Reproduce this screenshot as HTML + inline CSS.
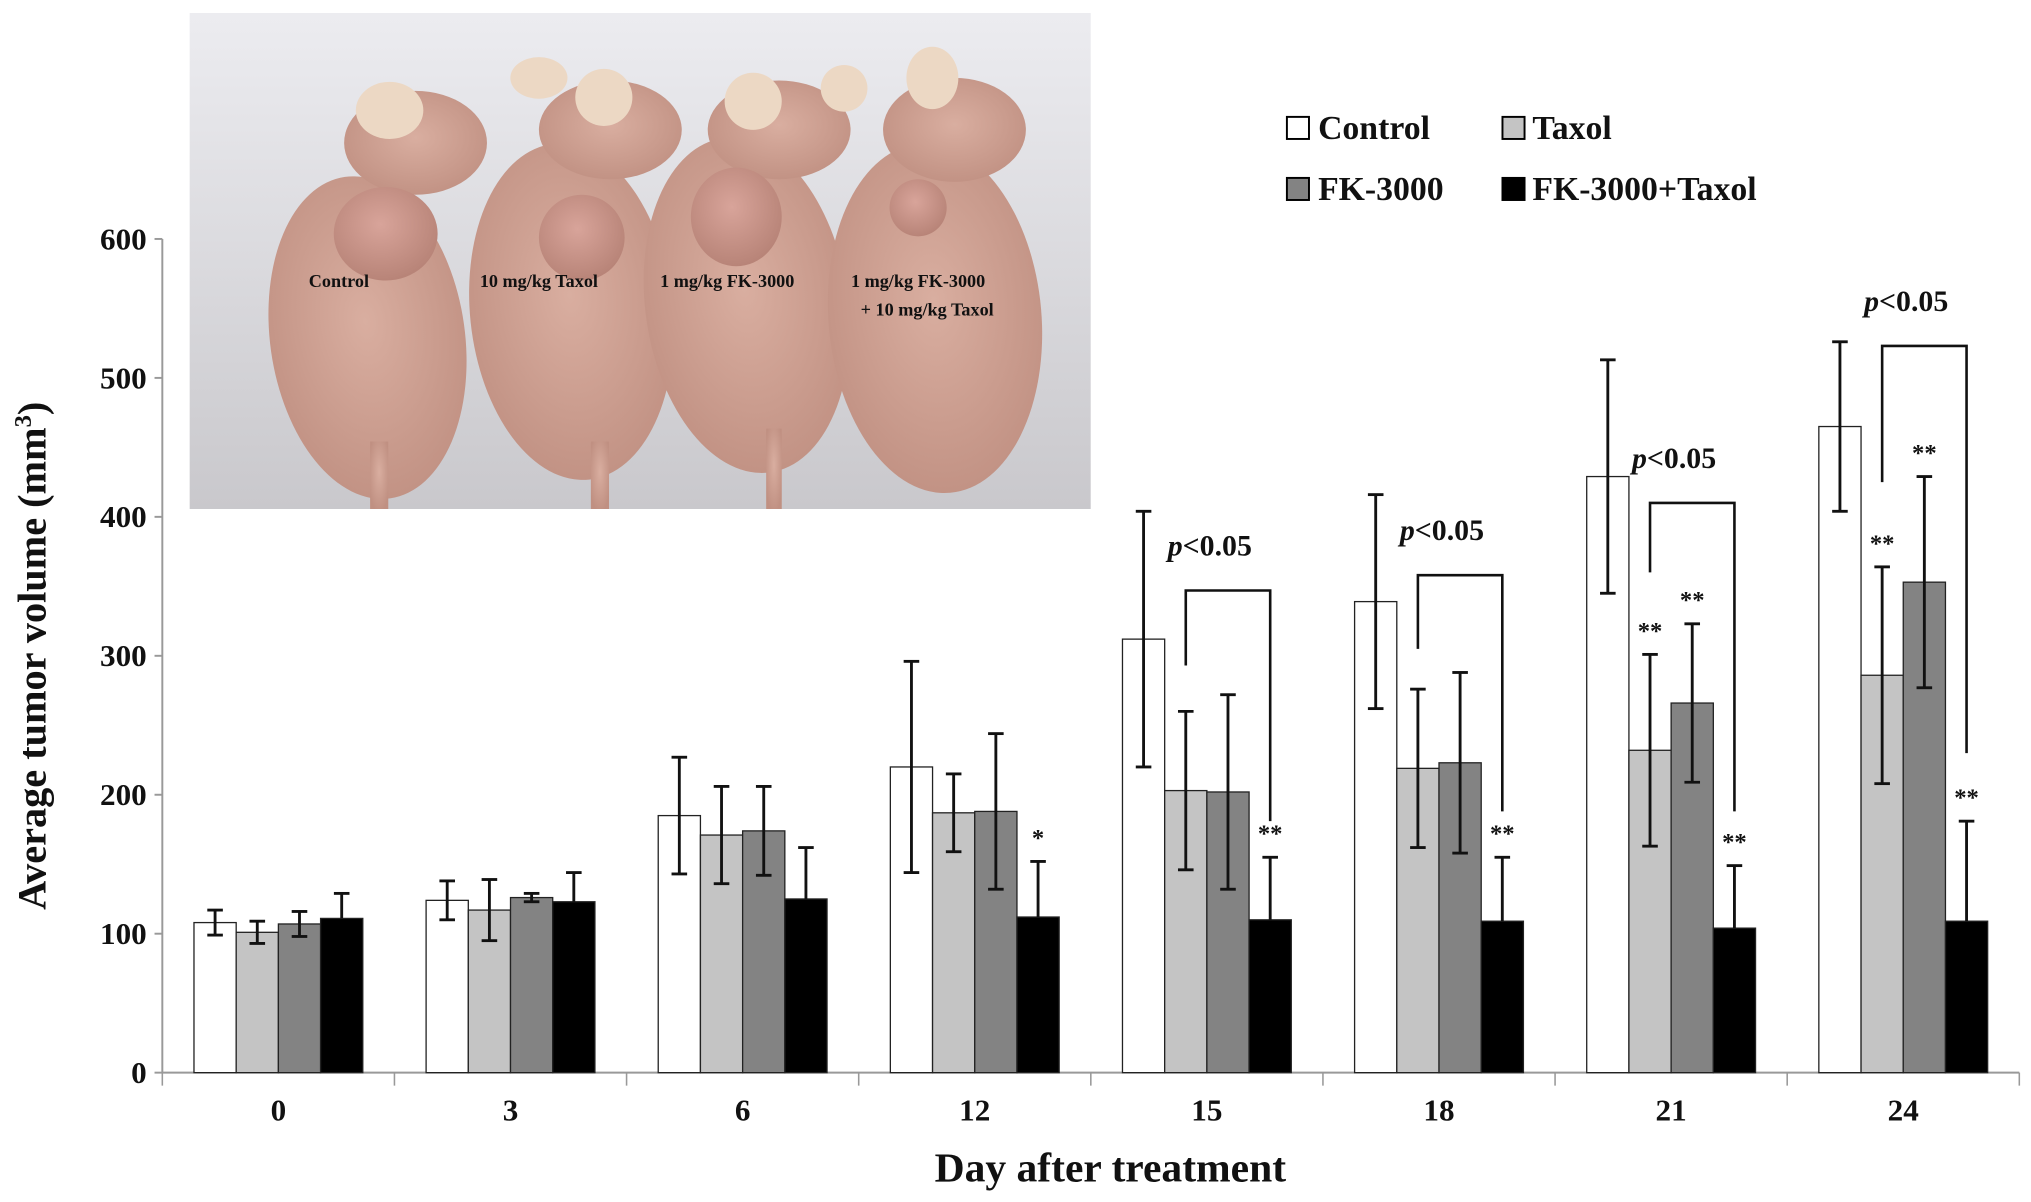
<!DOCTYPE html>
<html><head><meta charset="utf-8"><style>
html,body{margin:0;padding:0;background:#fff}
svg{display:block}
text{font-family:"Liberation Serif",serif;font-weight:bold;fill:#111}
</style></head><body>
<svg id="chart" width="2031" height="1202" viewBox="0 0 1564 925.6" xmlns="http://www.w3.org/2000/svg">
<defs>
<linearGradient id="bg" x1="0" y1="0" x2="0" y2="1"><stop offset="0" stop-color="#ececf0"/><stop offset="1" stop-color="#c9c8cc"/></linearGradient>
<radialGradient id="skin" cx="0.5" cy="0.45" r="0.6"><stop offset="0" stop-color="#d9aea0"/><stop offset="1" stop-color="#c09082"/></radialGradient>
<radialGradient id="tum" cx="0.45" cy="0.4" r="0.6"><stop offset="0" stop-color="#d8a49a"/><stop offset="1" stop-color="#b88478"/></radialGradient>
<clipPath id="photoClip"><rect x="146" y="10" width="694" height="382"/></clipPath>
</defs>
<g clip-path="url(#photoClip)">
<rect x="146" y="10" width="694" height="382" fill="url(#bg)"/>
<g fill="url(#skin)">
<ellipse cx="283" cy="260" rx="75" ry="125" transform="rotate(-8 283 260)"/>
<ellipse cx="320" cy="110" rx="55" ry="40"/>
<ellipse cx="440" cy="240" rx="78" ry="130" transform="rotate(-6 440 240)"/>
<ellipse cx="470" cy="100" rx="55" ry="38"/>
<ellipse cx="575" cy="235" rx="78" ry="130" transform="rotate(-8 575 235)"/>
<ellipse cx="600" cy="100" rx="55" ry="38"/>
<ellipse cx="720" cy="245" rx="82" ry="135" transform="rotate(-5 720 245)"/>
<ellipse cx="735" cy="100" rx="55" ry="40"/>
<rect x="285" y="340" width="14" height="52"/><rect x="455" y="340" width="14" height="52"/><rect x="590" y="330" width="12" height="62"/>
</g>
<g fill="#ecd8c4">
<ellipse cx="300" cy="85" rx="26" ry="22"/><ellipse cx="415" cy="60" rx="22" ry="16"/><ellipse cx="465" cy="75" rx="22" ry="22"/><ellipse cx="580" cy="78" rx="22" ry="22"/><ellipse cx="650" cy="68" rx="18" ry="18"/><ellipse cx="718" cy="60" rx="20" ry="24"/>
</g>
<g fill="url(#tum)">
<ellipse cx="297" cy="180" rx="40" ry="36"/><ellipse cx="448" cy="183" rx="33" ry="33"/><ellipse cx="567" cy="167" rx="35" ry="38"/><ellipse cx="707" cy="160" rx="22" ry="22"/>
</g>
<text x="261" y="221" font-size="14" text-anchor="middle">Control</text>
<text x="415" y="221" font-size="14" text-anchor="middle">10 mg/kg  Taxol</text>
<text x="560" y="221" font-size="14" text-anchor="middle">1 mg/kg FK-3000</text>
<text x="707" y="221" font-size="14" text-anchor="middle">1 mg/kg FK-3000</text>
<text x="714" y="243" font-size="14" text-anchor="middle">+ 10 mg/kg Taxol</text>
</g>
<g id="axes"></g>
<g id="marks"></g>
<g>
<rect x="991" y="90" width="17" height="17" fill="#fff" stroke="#000" stroke-width="1.5"/>
<text x="1015" y="107" font-size="26">Control</text>
<rect x="1157" y="90" width="17" height="17" fill="#c4c4c4" stroke="#000" stroke-width="1.5"/>
<text x="1180" y="107" font-size="26">Taxol</text>
<rect x="991" y="137" width="17" height="17" fill="#838383" stroke="#000" stroke-width="1.5"/>
<text x="1015" y="154" font-size="26">FK-3000</text>
<rect x="1157" y="137" width="17" height="17" fill="#000" stroke="#000" stroke-width="1.5"/>
<text x="1180" y="154" font-size="26">FK-3000+Taxol</text>
</g>
<text x="855" y="910" font-size="32" text-anchor="middle">Day after treatment</text>
<text transform="translate(35 505) rotate(-90)" font-size="31" text-anchor="middle">Average tumor volume (mm<tspan font-size="19" dy="-11">3</tspan><tspan dy="11">)</tspan></text>
</svg>
<script>
const categories = ["0","3","6","12","15","18","21","24"];
const controlVals = [108,124,185,220,312,339,429,465];
const taxolVals = [101,117,171,187,203,219,232,286];
const fkVals = [107,126,174,188,202,223,266,353];
const comboVals = [111,123,125,112,110,109,104,109];
const controlErr = [9,14,42,76,92,77,84,61];
const taxolErr = [8,22,35,28,57,57,69,78];
const fkErr = [9,3,32,56,70,65,57,76];
const comboErr = [18,21,37,40,45,46,45,72];
const yTicks = [0,100,200,300,400,500,600];
const starLabels = [[],[],[],["","","","*"],["","","","**"],["","","","**"],["","**","**","**"],["","**","**","**"]];
const bracketCats = [4,5,6,7];
const bracketTop = [347,358,410,523];
const bracketLeftEnd = [293,305,360,425];
const bracketRightEnd = [181,188,188,230];

const NS="http://www.w3.org/2000/svg";
const X0=125,X1=1555,Y0=826,Y600=184;
const bw=(X1-X0)/categories.length;
function yS(v){return Y0-(v/600)*(Y0-Y600);}
function barX(ci,si){return X0+ci*bw+(bw-130)/2+si*32.5;}
function mk(tag,attrs,parent){const e=document.createElementNS(NS,tag);for(const k in attrs)e.setAttribute(k,attrs[k]);parent.appendChild(e);return e;}
const axes=document.getElementById('axes'),marks=document.getElementById('marks');
let e=mk('line',{x1:X0,y1:Y600,x2:X0,y2:Y0,stroke:'#999','stroke-width':1.5},axes);


e=mk('line',{x1:X0,y1:Y0,x2:X1,y2:Y0,stroke:'#999','stroke-width':1.5},axes);


yTicks.forEach(t=>{
  mk('line',{x1:X0-6,y1:yS(t),x2:X0,y2:yS(t),stroke:'#999','stroke-width':1.5},axes);
  const tx=mk('text',{x:X0-12,y:yS(t)+8,'font-size':24,'text-anchor':'end'},axes);
  tx.textContent=t;
  
  
});
for(let i=0;i<=categories.length;i++){mk('line',{x1:X0+i*bw,y1:Y0,x2:X0+i*bw,y2:Y0+10,stroke:'#999','stroke-width':1.2},axes);}
categories.forEach((c,i)=>{
  const tx=mk('text',{x:X0+(i+0.5)*bw,y:Y0+37,'font-size':24,'text-anchor':'middle'},axes);
  tx.textContent=c;
  
  
});
const series=[[controlVals,controlErr,'#fff','control',true],[taxolVals,taxolErr,'#c4c4c4','taxol',true],[fkVals,fkErr,'#838383','fk3000',true],[comboVals,comboErr,'#000','fk3000-taxol',false]];
series.forEach((s,si)=>{
  s[0].forEach((v,ci)=>{
    const x=barX(ci,si);
    const r=mk('rect',{x:x,y:yS(v),width:32.5,height:Y0-yS(v),fill:s[2],stroke:'#222','stroke-width':1},marks);
    
    
    const cx=x+16.25,top=yS(v+s[1][ci]),bot=s[4]?yS(v-s[1][ci]):yS(v);
    const g=mk('g',{stroke:'#111','stroke-width':2.2},marks);
    
    
    mk('line',{x1:cx,y1:top,x2:cx,y2:bot},g);
    mk('line',{x1:cx-6,y1:top,x2:cx+6,y2:top},g);
    if(s[4])mk('line',{x1:cx-6,y1:bot,x2:cx+6,y2:bot},g);
    const st=starLabels[ci][si];
    if(st){const t=mk('text',{x:cx,y:top-12,'font-size':19,'text-anchor':'middle'},marks);t.textContent=st;
      
      }
  });
});
bracketCats.forEach((ci,k)=>{
  const xl=barX(ci,1)+16.25,xr=barX(ci,3)+16.25;
  const top=yS(bracketTop[k]);
  const p=mk('path',{d:`M${xl} ${yS(bracketLeftEnd[k])} L${xl} ${top} L${xr} ${top} L${xr} ${yS(bracketRightEnd[k])}`,fill:'none',stroke:'#111','stroke-width':2},marks);
  
  
  const t=mk('text',{x:(xl+xr)/2-14,y:top-27,'font-size':23,'text-anchor':'middle'},marks);
  t.innerHTML='<tspan font-style="italic">p</tspan>&lt;0.05';
  
  
});
</script>
</body></html>
